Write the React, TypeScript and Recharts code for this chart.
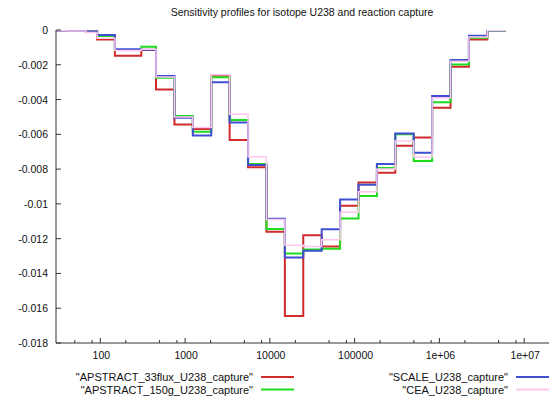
import React from "react";
import { LineChart, Line, XAxis, YAxis } from "recharts";

// ECCO-33 group lower bounds (eV), last entry closes the final visible group
const energies = [
  22.6033, 40.169, 67.9041, 91.6609, 148.625, 304.325, 453.999, 748.518, 1234.1,
  2034.68, 3354.63, 5530.84, 9118.82, 15034.4, 24787.5, 40867.7, 67379.5, 111090,
  183156, 301974, 497871, 820850, 1353350, 2231300, 3678790, 6065310,
];

const apstract33 = [
  -0.00004, -0.00005, -0.00008, -0.00054, -0.00148, -0.00115, -0.00342, -0.00543,
  -0.0057, -0.00263, -0.00633, -0.00789, -0.0116, -0.01645, -0.0118, -0.01245,
  -0.01011, -0.00877, -0.00821, -0.00666, -0.00618, -0.00447, -0.00211, -0.00054,
  -0.00003,
];
const apstract150 = [
  -0.00003, -0.00004, -0.0001, -0.00035, -0.00115, -0.00096, -0.00274, -0.00495,
  -0.00585, -0.00272, -0.00518, -0.0077, -0.01144, -0.01286, -0.01262, -0.01258,
  -0.01084, -0.00954, -0.00793, -0.006, -0.00754, -0.00415, -0.00198, -0.00044,
  -0.00004,
];
const scale = [
  -0.00004, -0.00005, -0.00008, -0.00029, -0.00111, -0.00113, -0.00265, -0.00505,
  -0.00607, -0.00301, -0.00532, -0.00777, -0.01086, -0.01309, -0.0127, -0.01146,
  -0.00975, -0.0089, -0.00771, -0.00595, -0.00706, -0.0038, -0.00173, -0.00033,
  -0.00003,
];
const cea = [
  -0.00005, -0.00006, -0.00015, -0.00048, -0.00118, -0.0011, -0.0027, -0.005,
  -0.0056, -0.00258, -0.00484, -0.00729, -0.0109, -0.01238, -0.01245, -0.01206,
  -0.01048, -0.0093, -0.008, -0.00639, -0.0073, -0.0039, -0.0018, -0.0004,
  -0.00003,
];

const xMajorTicks = [100, 1000, 10000, 100000, 1000000, 10000000];
const xMajorLabels = ["100", "1000", "10000", "100000", "1e+06", "1e+07"];
const xMinorTicks = [
  50, 80, 200, 500, 800, 2000, 5000, 8000, 20000, 50000, 80000, 200000, 500000,
  800000, 2000000, 5000000, 8000000,
];
const yTicks = [0, -0.002, -0.004, -0.006, -0.008, -0.01, -0.012, -0.014, -0.016, -0.018];
const yLabels = ["0", "-0.002", "-0.004", "-0.006", "-0.008", "-0.01", "-0.012", "-0.014", "-0.016", "-0.018"];

const seriesNames = [
  '"APSTRACT_33flux_U238_capture"',
  '"APSTRACT_150g_U238_capture"',
  '"SCALE_U238_capture"',
  '"CEA_U238_capture"',
];
const colors = ["#d02a2a", "#1fdc1f", "#3f4fd0", "#ffc6ee"];

const data = energies.map((e, i) => {
  const j = Math.min(i, apstract33.length - 1);
  return { e, a33: apstract33[j], a150: apstract150[j], scale: scale[j], cea: cea[j] };
});

const allXTicks = [...xMinorTicks, ...xMajorTicks].sort((a, b) => a - b);
const FONT = "'Liberation Sans', Arial, Helvetica, sans-serif";

const BottomTick = (props: any) => {
  const { x, y, payload } = props;
  const idx = xMajorTicks.indexOf(payload.value);
  const major = idx >= 0;
  return (
    <g>
      <line x1={x} x2={x} y1={y} y2={y - (major ? 5 : 3)} stroke="#333" strokeWidth={1} />
      {major && (
        <text x={x + 1} y={y + 16} textAnchor="middle" fontSize={10.5} fontFamily={FONT} fill="#111">
          {xMajorLabels[idx]}
        </text>
      )}
    </g>
  );
};
const TopTick = (props: any) => {
  const { x, y, payload } = props;
  const major = xMajorTicks.indexOf(payload.value) >= 0;
  return <line x1={x} x2={x} y1={y} y2={y + (major ? 5 : 3)} stroke="#333" strokeWidth={1} />;
};
const LeftTick = (props: any) => {
  const { x, y, payload } = props;
  const idx = yTicks.indexOf(payload.value);
  return (
    <g>
      <line x1={x} x2={x + 5} y1={y} y2={y} stroke="#333" strokeWidth={1} />
      <text x={x - 8} y={y + 4} textAnchor="end" fontSize={10.5} fontFamily={FONT} fill="#111">
        {idx >= 0 ? yLabels[idx] : ""}
      </text>
    </g>
  );
};
const RightTick = (props: any) => {
  const { x, y } = props;
  return <line x1={x} x2={x - 5} y1={y} y2={y} stroke="#333" strokeWidth={1} />;
};

const keys = ["a33", "a150", "scale", "cea"];

export default function App() {
  return (
    <div style={{ position: "absolute", left: 0, top: 0, width: 552, height: 400, background: "#fff" }}>
      <LineChart width={552} height={400} data={data} margin={{ top: 30, right: 3, bottom: 0, left: 0 }}>
        <XAxis
          xAxisId="b"
          dataKey="e"
          type="number"
          scale="log"
          domain={[30, 19640300]}
          allowDataOverflow
          ticks={allXTicks}
          interval={0}
          tickSize={0}
          tickMargin={0}
          tickLine={false}
          tick={<BottomTick />}
          height={57}
          axisLine={{ stroke: "#333" }}
        />
        <XAxis
          xAxisId="t"
          dataKey="e"
          type="number"
          scale="log"
          orientation="top"
          domain={[30, 19640300]}
          allowDataOverflow
          ticks={allXTicks}
          interval={0}
          tickSize={0}
          tickMargin={0}
          tickLine={false}
          tick={<TopTick />}
          height={0}
          axisLine={{ stroke: "#333" }}
        />
        <YAxis
          yAxisId="l"
          type="number"
          domain={[-0.018, 0]}
          allowDataOverflow
          ticks={yTicks}
          interval={0}
          tickSize={0}
          tickMargin={0}
          tickLine={false}
          tick={<LeftTick />}
          width={56}
          axisLine={{ stroke: "#333" }}
        />
        <YAxis
          yAxisId="r"
          orientation="right"
          type="number"
          domain={[-0.018, 0]}
          allowDataOverflow
          ticks={yTicks}
          interval={0}
          tickSize={0}
          tickMargin={0}
          tickLine={false}
          tick={<RightTick />}
          width={0}
          axisLine={{ stroke: "#333" }}
        />
        {keys.map((k, i) => (
          <Line
            key={k}
            xAxisId="b"
            yAxisId="l"
            dataKey={k}
            type="stepAfter"
            stroke={colors[i]}
            strokeWidth={i === 3 ? 1.5 : 2}
            dot={false}
            isAnimationActive={false}
          />
        ))}
      </LineChart>
      <svg
        width={552}
        height={400}
        style={{ position: "absolute", left: 0, top: 0, pointerEvents: "none" }}
      >
        <text x={302} y={16} textAnchor="middle" fontSize={10.5} fontFamily={FONT} fill="#111">
          Sensitivity profiles for isotope U238 and reaction capture
        </text>
        {seriesNames.map((name, i) => {
          const col = i < 2 ? 0 : 1;
          const row = i % 2;
          const textEnd = col === 0 ? 253 : 508;
          const y = 377 + row * 12.5;
          return (
            <g key={name}>
              <text x={textEnd} y={y + 4} textAnchor="end" fontSize={11} fontFamily={FONT} fill="#111">
                {name}
              </text>
              <line x1={textEnd + 8} x2={textEnd + 41} y1={y} y2={y} stroke={colors[i]} strokeWidth={2} />
            </g>
          );
        })}
      </svg>
    </div>
  );
}
